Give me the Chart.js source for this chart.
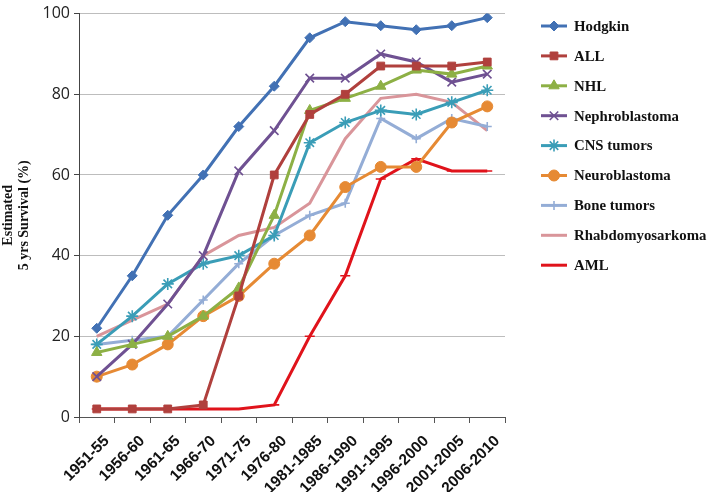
<!DOCTYPE html>
<html>
<head>
<meta charset="utf-8">
<script src="https://cdn.jsdelivr.net/npm/chart.js@4/dist/chart.umd.min.js"></script>
<style>
  html, body { margin: 0; padding: 0; background: #fff; }
  #wrap { width: 709px; height: 492px; position: relative; }
</style>
</head>
<body>
<div id="wrap"><canvas id="survivalChart"></canvas></div>
<script>
// periods on the x axis
const periods = ['1951-55', '1956-60', '1961-65', '1966-70', '1971-75', '1976-80',
  '1981-1985', '1986-1990', '1991-1995', '1996-2000', '2001-2005', '2006-2010']

// estimated 5 yrs survival (%) per tumour type
const hodgkin = [22, 35, 50, 60, 72, 82, 94, 98, 97, 96, 97, 99]
const all = [2, 2, 2, 3, 30, 60, 75, 80, 87, 87, 87, 88]
const nhl = [16, 18, 20, 25, 32, 50, 76, 79, 82, 86, 85, 87]
const nephroblastoma = [10, 18, 28, 40, 61, 71, 84, 84, 90, 88, 83, 85]
const cnsTumors = [18, 25, 33, 38, 40, 45, 68, 73, 76, 75, 78, 81]
const neuroblastoma = [10, 13, 18, 25, 30, 38, 45, 57, 62, 62, 73, 77]
const boneTumors = [18, 19, 20, 29, 38, 45, 50, 53, 74, 69, 74, 72]
const rhabdomyosarkoma = [20, 24, 28, 40, 45, 47, 53, 69, 79, 80, 78, 71]
const aml = [2, 2, 2, 2, 2, 3, 20, 35, 59, 64, 61, 61]

const yTicks = [0, 20, 40, 60, 80, 100]

const series = [
  { label: 'Hodgkin', data: hodgkin, color: '#4271B4', style: 'rectRot', r: 5 },
  { label: 'ALL', data: all, color: '#B0403D', style: 'rect', r: 5.5 },
  { label: 'NHL', data: nhl, color: '#8DB045', style: 'triangle', r: 6 },
  { label: 'Nephroblastoma', data: nephroblastoma, color: '#6F5192', style: 'crossRot', r: 6 },
  { label: 'CNS tumors', data: cnsTumors, color: '#3A9DB7', style: 'star', r: 6 },
  { label: 'Neuroblastoma', data: neuroblastoma, color: '#E68A34', style: 'circle', r: 5.5 },
  { label: 'Bone tumors', data: boneTumors, color: '#94ADD6', style: 'cross', r: 4.5 },
  { label: 'Rhabdomyosarkoma', data: rhabdomyosarkoma, color: '#D9959A', style: 'circle', r: 0 },
  { label: 'AML', data: aml, color: '#E0131B', style: 'line', r: 5 },
]

const datasets = series.map(s => ({
  label: s.label,
  data: s.data,
  borderColor: s.color,
  backgroundColor: s.color,
  borderWidth: 3,
  pointStyle: s.style,
  pointRadius: s.r,
  pointBorderWidth: ['crossRot', 'star', 'cross', 'line'].includes(s.style) ? 1.6 : 1,
  pointBorderColor: s.color,
  pointBackgroundColor: s.color,
  tension: 0,
}))

// legend drawn by hand: line sample with marker, like the original
const sideLegend = {
  id: 'sideLegend',
  afterDraw(chart) {
    const ctx = chart.ctx
    ctx.save()
    chart.data.datasets.forEach((ds, i) => {
      const y = 26 + i * 29.9
      ctx.strokeStyle = ds.borderColor
      ctx.lineWidth = 3
      ctx.beginPath()
      ctx.moveTo(541, y)
      ctx.lineTo(567, y)
      ctx.stroke()
      if (ds.pointRadius > 0) {
        ctx.fillStyle = ds.pointBackgroundColor
        ctx.strokeStyle = ds.pointBorderColor
        ctx.lineWidth = ds.pointBorderWidth
        Chart.helpers.drawPoint(ctx, {
          pointStyle: ds.pointStyle,
          radius: ds.pointRadius,
          rotation: 0,
          borderWidth: ds.pointBorderWidth,
        }, 554, y)
      }
      ctx.fillStyle = '#111'
      ctx.font = 'bold 14.8px "Liberation Serif", "Times New Roman", serif'
      ctx.textBaseline = 'middle'
      ctx.textAlign = 'left'
      ctx.fillText(ds.label, 574, y + 1)
    })
    ctx.restore()
  },
}

new Chart(document.getElementById('survivalChart'), {
  type: 'line',
  data: { labels: periods, datasets: datasets },
  plugins: [sideLegend],
  options: {
    responsive: true,
    maintainAspectRatio: false,
    animation: false,
    layout: { padding: { top: 12, right: 204, left: 0, bottom: 0 } },
    plugins: {
      legend: { display: false },
      tooltip: { enabled: false },
    },
    scales: {
      x: {
        offset: true,
        grid: {
          display: true,
          offset: true,
          drawOnChartArea: false,
          tickLength: 6,
          tickColor: '#555',
        },
        border: { display: true, color: '#555', width: 1 },
        ticks: {
          color: '#111',
          maxRotation: 45,
          minRotation: 45,
          autoSkip: false,
          padding: 9,
          labelOffset: 10,
          font: { family: '"Liberation Sans", Arial, sans-serif', size: 15.5, weight: 'bold' },
        },
        afterFit(scale) { scale.height = 75 },
      },
      y: {
        min: 0,
        max: 100,
        afterBuildTicks(scale) { scale.ticks = yTicks.map(v => ({ value: v })) },
        grid: {
          color: ctx => (ctx.tick && ctx.tick.value === 0 ? 'rgba(0,0,0,0)' : '#BDBDBD'),
          tickColor: '#444',
          tickLength: 5,
          lineWidth: 1,
        },
        border: { display: true, color: '#444', width: 1 },
        ticks: {
          color: '#222',
          padding: 4,
          font: { family: '"Open Sans", "Liberation Sans", sans-serif', size: 16 },
        },
        title: {
          display: true,
          text: ['Estimated', '5 yrs Survival (%)'],
          color: '#111',
          padding: { top: 0, bottom: 3 },
          font: { family: '"Liberation Serif", "Times New Roman", serif', size: 14, weight: 'bold', lineHeight: 1.15 },
        },
        afterFit(scale) { scale.width = 79 },
      },
    },
  },
})
</script>
</body>
</html>
